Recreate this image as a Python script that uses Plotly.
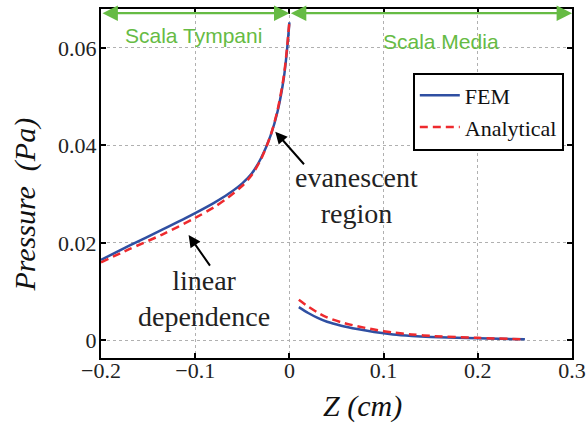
import plotly.graph_objects as go

# ---- data ----
z_left = [-0.2, -0.17, -0.135, -0.1, -0.08, -0.065, -0.05, -0.04, -0.03, -0.02, -0.0125, -0.006, -0.0025, 0.0]
fem_left = [0.0165, 0.0194, 0.0227, 0.0261, 0.0282, 0.0300, 0.0322, 0.0342, 0.0374, 0.0420, 0.0470, 0.0537, 0.0596, 0.0652]
ana_left = [0.0160, 0.0187, 0.0217, 0.0251, 0.0273, 0.0293, 0.0317, 0.0339, 0.0372, 0.0420, 0.0473, 0.0541, 0.0600, 0.0655]

z_right = [0.01, 0.02, 0.03, 0.04, 0.055, 0.072, 0.09, 0.11, 0.13, 0.15, 0.2, 0.25]
fem_right = [0.0068, 0.0056, 0.0046, 0.0038, 0.0030, 0.0023, 0.0017, 0.0012, 0.0009, 0.0007, 0.0004, 0.0002]
ana_right = [0.0083, 0.0069, 0.0057, 0.0047, 0.0037, 0.0029, 0.0022, 0.0016, 0.0012, 0.0009, 0.0005, 0.0002]

x_ticks = [-0.2, -0.1, 0, 0.1, 0.2, 0.3]
y_ticks = [0, 0.02, 0.04, 0.06]
series_names = ["FEM", "Analytical"]
regions = ["Scala Tympani", "Scala Media"]
region_bounds = [(-0.2, 0.0), (0.0, 0.3)]

BLUE = "#2f4fa2"
RED = "#ee2a2e"
GREEN = "#66bb44"
SERIF = "Liberation Serif"

z_all = z_left + [None] + z_right
fem_all = fem_left + [None] + fem_right
ana_all = ana_left + [None] + ana_right

fig = go.Figure()
fig.add_trace(go.Scatter(x=z_all, y=fem_all, mode="lines", name=series_names[0],
                         line=dict(color=BLUE, width=2.5, shape="spline", smoothing=0.8),
                         connectgaps=False))
fig.add_trace(go.Scatter(x=z_all, y=ana_all, mode="lines", name=series_names[1],
                         line=dict(color=RED, width=2.5, dash="8px,5px", shape="spline", smoothing=0.8),
                         connectgaps=False))

annotations = []
# green region arrows
y_arrow = 0.0671
for (a, b) in region_bounds:
    annotations.append(dict(x=b, y=y_arrow, ax=a, ay=y_arrow, xref="x", yref="y", axref="x", ayref="y",
                            text="", showarrow=True, arrowside="end+start", arrowhead=2,
                            arrowsize=1.4, arrowwidth=2.2, arrowcolor=GREEN, standoff=0, startstandoff=0))
annotations.append(dict(x=-0.102, y=0.0626, xref="x", yref="y", text=regions[0], showarrow=False,
                        xanchor="center", yanchor="middle",
                        font=dict(family="Liberation Sans", size=21, color=GREEN)))
annotations.append(dict(x=0.161, y=0.0613, xref="x", yref="y", text=regions[1], showarrow=False,
                        xanchor="center", yanchor="middle",
                        font=dict(family="Liberation Sans", size=21, color=GREEN)))

# black annotation arrows and texts
annotations.append(dict(x=-0.015, y=0.0428, ax=0.0169, ay=0.0358, xref="x", yref="y", axref="x", ayref="y",
                        text="", showarrow=True, arrowhead=2, arrowsize=1.2, arrowwidth=2,
                        arrowcolor="black", standoff=0))
annotations.append(dict(x=-0.107, y=0.0216, ax=-0.0832, ay=0.0150, xref="x", yref="y", axref="x", ayref="y",
                        text="", showarrow=True, arrowhead=2, arrowsize=1.2, arrowwidth=2,
                        arrowcolor="black", standoff=0))
annotations.append(dict(x=0.0715, y=0.0297, xref="x", yref="y", text="evanescent<br>region",
                        xanchor="center", yanchor="middle",
                        showarrow=False, font=dict(family=SERIF, size=28, color="#222"), align="center"))
annotations.append(dict(x=-0.0902, y=0.0086, xref="x", yref="y", text="linear<br>dependence",
                        xanchor="center", yanchor="middle",
                        showarrow=False, font=dict(family=SERIF, size=28, color="#222"), align="center"))

# axis titles
annotations.append(dict(x=-0.161, y=0.44, xref="paper", yref="paper", text="<i>Pressure\u00a0\u00a0(Pa)</i>",
                        xanchor="center", yanchor="middle",
                        showarrow=False, textangle=-90, font=dict(family=SERIF, size=30, color="#111")))
annotations.append(dict(x=0.556, y=-0.138, xref="paper", yref="paper", text="<i>Z (cm)</i>",
                        xanchor="center", yanchor="middle",
                        showarrow=False, font=dict(family=SERIF, size=30, color="#111")))

axis_common = dict(showline=True, linecolor="black", linewidth=2, mirror="ticks",
                   ticks="inside", ticklen=5, tickwidth=2, tickcolor="black",
                   showgrid=True, gridcolor="#b0b0b0", griddash="dot", gridwidth=1,
                   zeroline=False, automargin=False,
                   tickfont=dict(family=SERIF, size=22, color="#222"))

fig.update_layout(
    width=587, height=426,
    margin=dict(l=101, r=15, t=9, b=68, autoexpand=False),
    paper_bgcolor="white", plot_bgcolor="white",
    xaxis=dict(range=[-0.2, 0.3], tickvals=x_ticks, ticklabelstandoff=-8, **axis_common),
    yaxis=dict(range=[-0.00363, 0.06796], tickvals=y_ticks, ticklabelstandoff=-2, **axis_common),
    legend=dict(x=0.662, y=0.818, xanchor="left", yanchor="top", bgcolor="white",
                bordercolor="black", borderwidth=2, font=dict(family=SERIF, size=22, color="#111"),
                tracegroupgap=0, itemwidth=40),
    annotations=annotations,
    showlegend=True,
)

fig.write_html("out.html")
